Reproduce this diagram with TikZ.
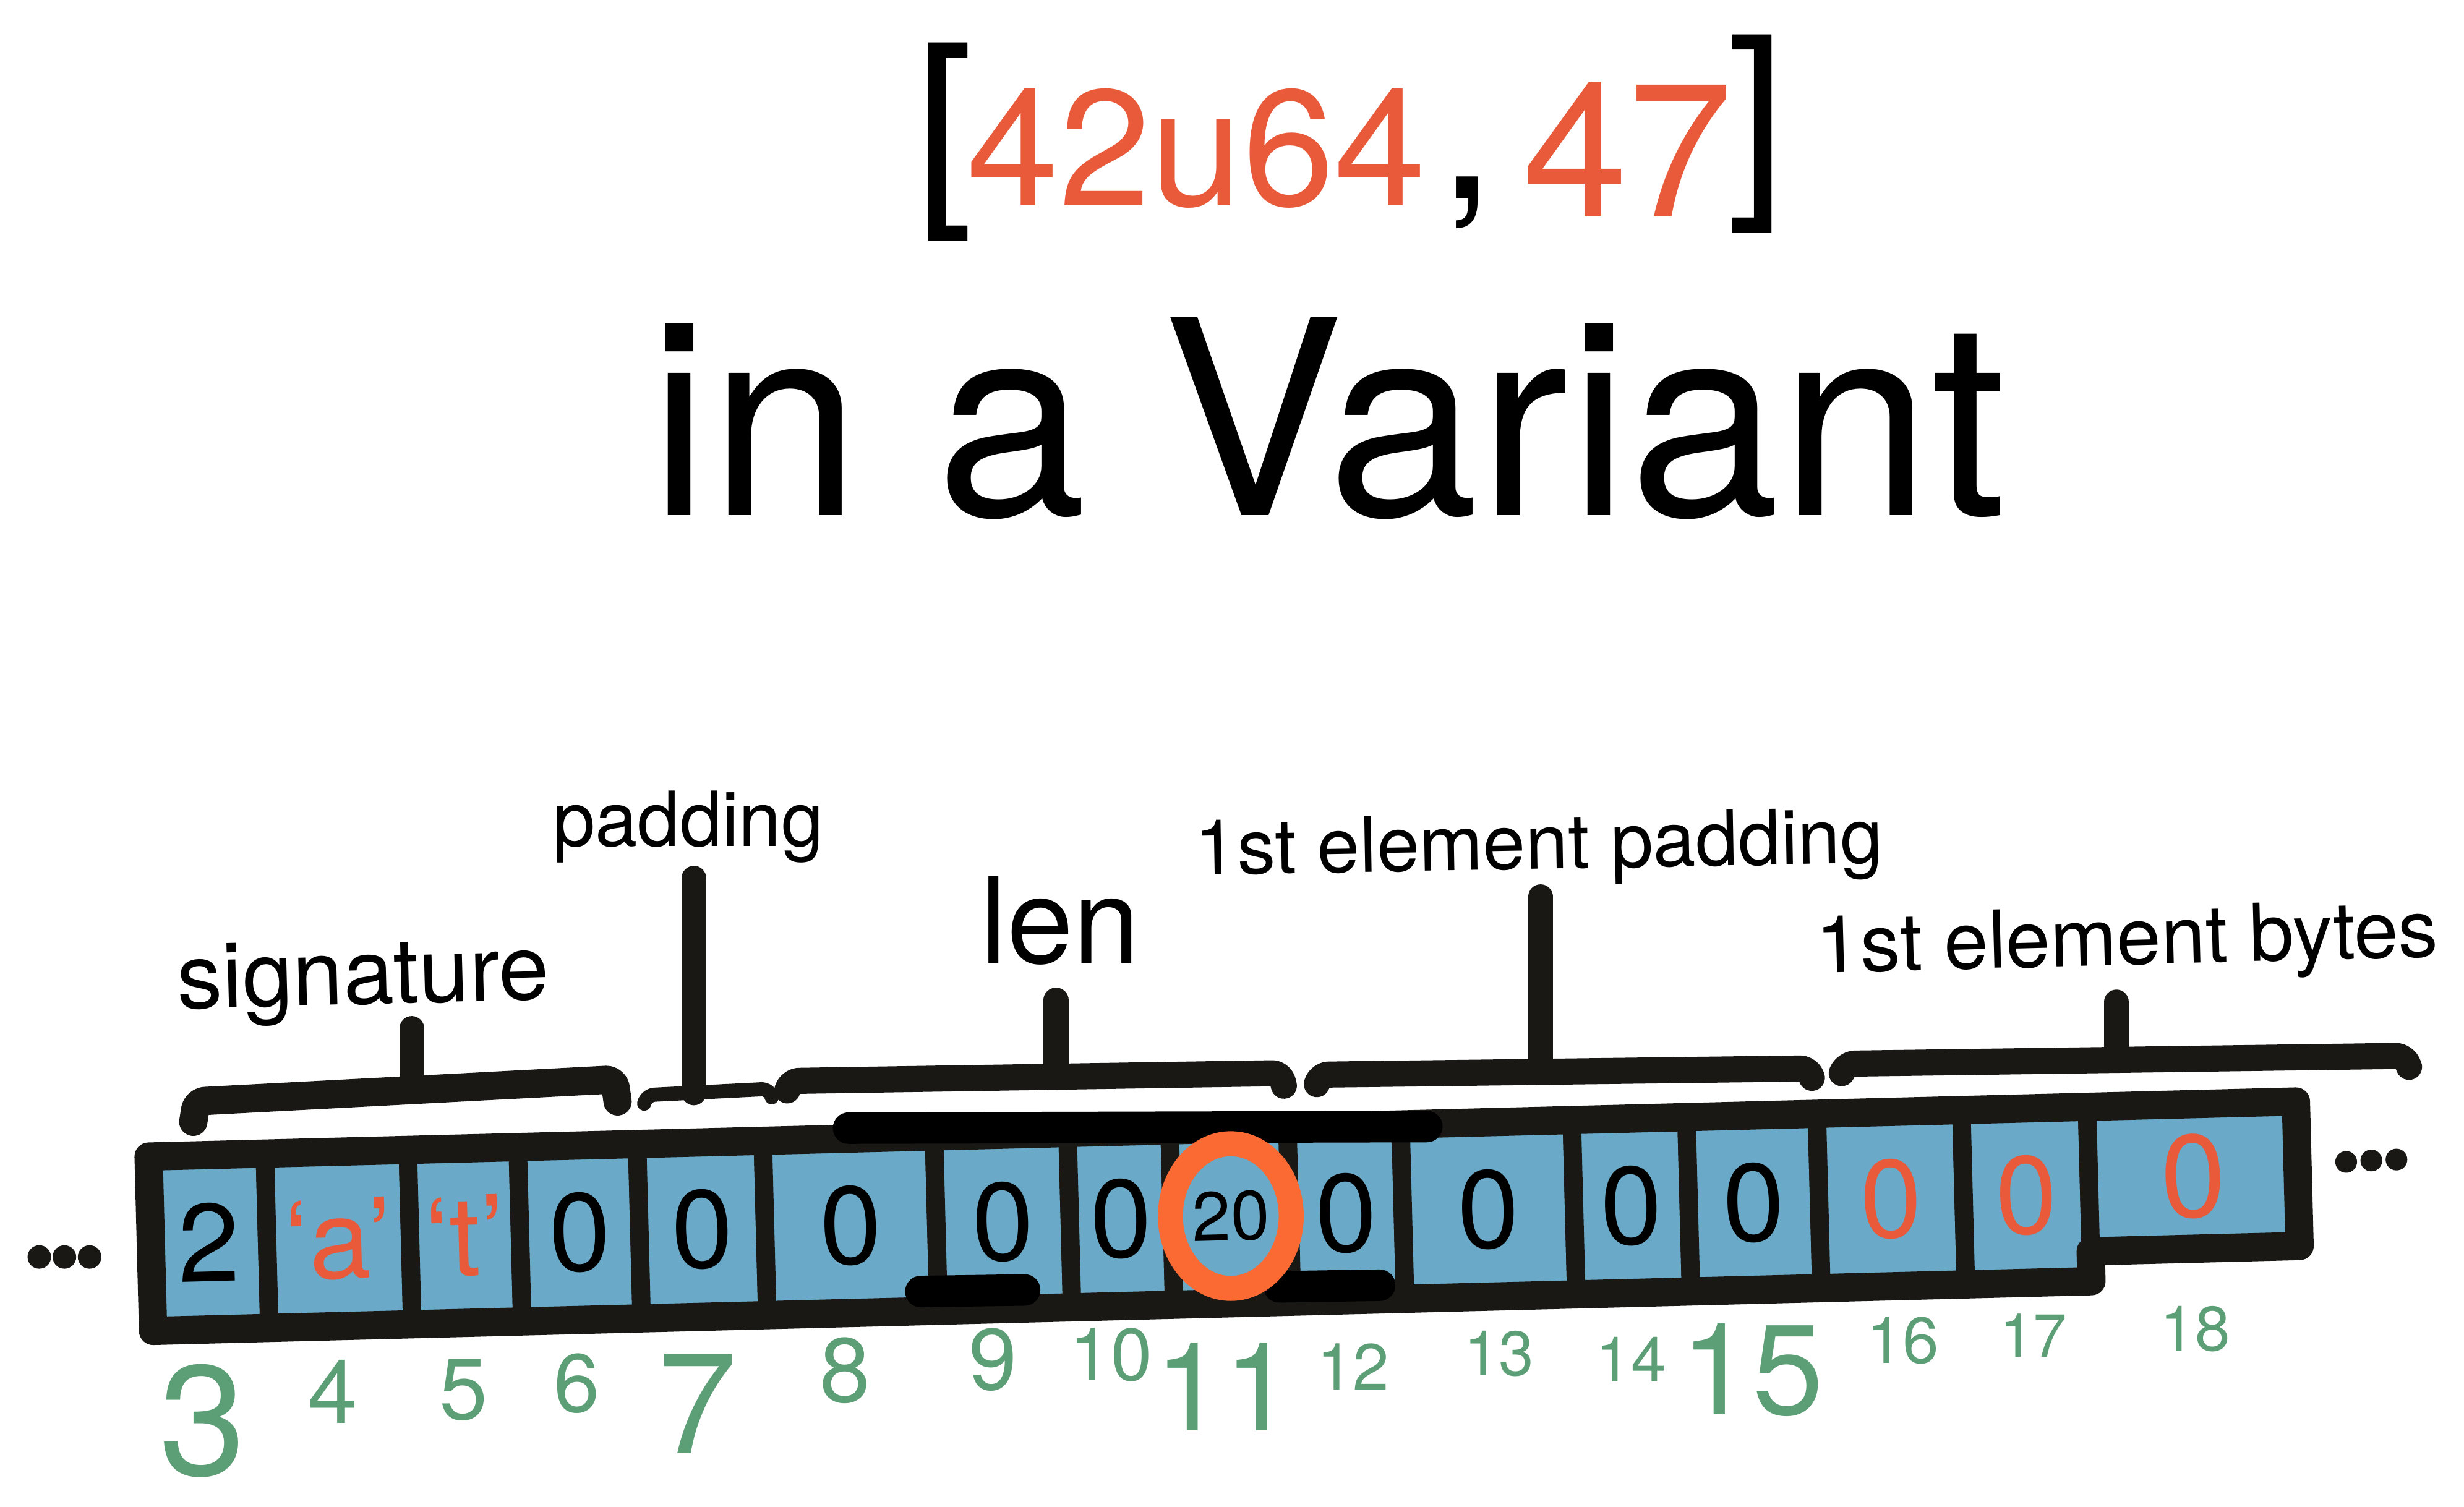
\documentclass[tikz,border=0pt]{standalone}
\usepackage{fontspec}
\setmainfont{TeX Gyre Heros}
\usepackage{tikz}

\definecolor{ink}{RGB}{26,24,21}
\definecolor{tape}{RGB}{106,169,199}
\definecolor{tomato}{RGB}{232,90,58}
\definecolor{ringorange}{RGB}{251,106,50}
\definecolor{offset}{RGB}{92,158,117}
\newcommand{\spx}{0.7232pt}

\begin{document}
\begin{tikzpicture}[x=\spx, y=-\spx,
    cell/.style={draw=ink, fill=tape, line width=8.5pt, inner sep=0pt, outer sep=0pt,
      minimum height=111*\spx, transform shape, font=\fontsize{51}{51}\selectfont},
    byteb/.style={text=black},
    byter/.style={text=tomato},
    small20/.style={text=black, font=\fontsize{32}{32}\selectfont},
    rim/.style={draw=ink, line width=13pt, line join=round},
    band/.style={draw=black, line width=14.5pt, line cap=round},
    brace/.style={draw=ink, line width=12pt, line cap=round, line join=round, rounded corners=4pt},
    stem/.style={draw=ink, line width=11.5pt, line cap=round},
    ringline/.style={draw=ringorange, line width=11.5pt},
    lab/.style={inner sep=0pt, anchor=base, text=black},
    idx/.style={inner sep=0pt, anchor=base, text=offset}]
                \useasboundingbox (0,0) rectangle (1568,959);

                \node[lab, font=\fontsize{97}{97}\selectfont] (lbrack) at (601,125) {[};
                \node[lab, text=tomato, font=\fontsize{76}{76}\selectfont] (tnum) at (761.5,131) {42u64};
                \node[lab, font=\fontsize{95}{95}\selectfont] (tcomma) at (933.5,126) {,};
                \node[lab, text=tomato, font=\fontsize{87}{87}\selectfont] (tval) at (1036,137.5) {47};
                \node[lab, font=\fontsize{97}{97}\selectfont] (rbrack) at (1118,120) {]};
                \node[lab, font=\fontsize{125}{125}\selectfont] (ttl) at (845,328) {in a Variant};

                \begin{scope}[rotate around={1.47:(100,791.5)}]
                \foreach \n/\lft/\rgt/\txt/\sty in {3/96/170/2/byteb, 4/170/261/{‘a’}/byter,
                    5/261/331/{‘t’}/byter, 6/331/407/0/byteb, 7/407/487/0/byteb, 8/487/596/0/byteb,
                    9/596/681/0/byteb, 10/681/746/0/byteb, 11/746/821/20/small20, 12/821/893/0/byteb,
                    13/893/1002/0/byteb, 14/1002/1075/0/byteb, 15/1075/1158/0/byteb,
                    16/1158/1250/0/byter, 17/1250/1330/0/byter}
                    \node[cell, \sty, minimum width={(\rgt-\lft)*\spx}] (c\n) at ({(\lft+\rgt)/2},791.5) {\txt};
                \node[cell, byter, anchor=north, minimum width=133*\spx, minimum height=92*\spx,
                    font=\fontsize{54}{54}\selectfont] (c18) at (1396.5,736) {0};
                \draw[rim] (c3.north west) -- (c18.north east) -- (c18.south east)
                    -- (c18.south west) -- (c17.south east) -- (c3.south west) -- cycle;
                \end{scope}

                \draw[band] (540,718) -- (908,717);
                \draw[band] (586,822) -- (652,821);
                \draw[band] (814,819) -- (878,818);
                \draw[ringline] (c11.center) ellipse [x radius=27.8pt, y radius=33.3pt];

                \fill[ink] (25,800) circle [radius=5.4pt];
                \fill[ink] (41,800) circle [radius=5.4pt];
                \fill[ink] (57,800) circle [radius=5.4pt];
                \fill[ink] (1493,739.5) circle [radius=5pt];
                \fill[ink] (1509,738.6) circle [radius=5pt];
                \fill[ink] (1525,738) circle [radius=5pt];

                \foreach \n/\x/\y/\sz in {3/129/938.8/72, 4/212/906/41, 5/295/903.6/40, 6/367/898.8/38,
                    7/444/925.2/66, 8/538/892.4/42, 9/632/884.4/40, 10/707/878.8/34, 11/779/910.5/57,
                    12/861/884.4/30, 13/954/875.6/29, 14/1038/879.6/29, 15/1115/900.4/59,
                    16/1211/867.6/30, 17/1294/863.6/28, 18/1397/859.6/29}
                    \node[idx, font=\fontsize{\sz}{\sz}\selectfont] (i\n) at (\x,\y) {\n};

                \node[lab, rotate=1.5, font=\fontsize{41.8}{44}\selectfont] (lsig) at (231.5,639) {signature};
                \node[lab, font=\fontsize{35}{37}\selectfont] (lpad) at (438,538.5) {padding};
                \node[lab, font=\fontsize{55}{57}\selectfont] (llen) at (674.6,613) {len};
                \node[lab, rotate=1, font=\fontsize{35.2}{37}\selectfont] (lelpad) at (979.5,553) {1st element padding};
                \node[lab, rotate=1.5, font=\fontsize{36.7}{39}\selectfont] (lelbyt) at (1354,614) {1st element bytes};

                \draw[brace, line width=13pt] (123,714) -- (125,701) -- (391,687) -- (393,701);
                \coordinate (bsig) at (262,694);
                \draw[stem, shorten <=2pt] (bsig |- lsig.south) -- (bsig);

                \draw[brace, line width=6.5pt] (410,702) -- (411,697) -- (490,693) -- (491,698);
                \coordinate (bpad) at (441.5,695.5);
                \draw[stem, shorten <=7pt] (bpad |- lpad.south) -- (bpad);

                \draw[brace] (501,694) -- (503,688) -- (815,683) -- (817,691);
                \coordinate (blen) at (672,685.3);
                \draw[stem, shorten <=16pt] (blen |- llen.south) -- (blen);

                \draw[brace] (838,690) -- (840,684) -- (1151,680) -- (1153,686);
                \coordinate (belpad) at (980.3,682.2);
                \draw[stem, shorten <=5pt] (belpad |- lelpad.south) -- (belpad);

                \draw[brace] (1172,683) -- (1175,677) -- (1530,672) -- (1533,679);
                \coordinate (belbyt) at (1346.8,674.6);
                \draw[stem, shorten <=9pt] (belbyt |- lelbyt.south) -- (belbyt);
\end{tikzpicture}
\end{document}
